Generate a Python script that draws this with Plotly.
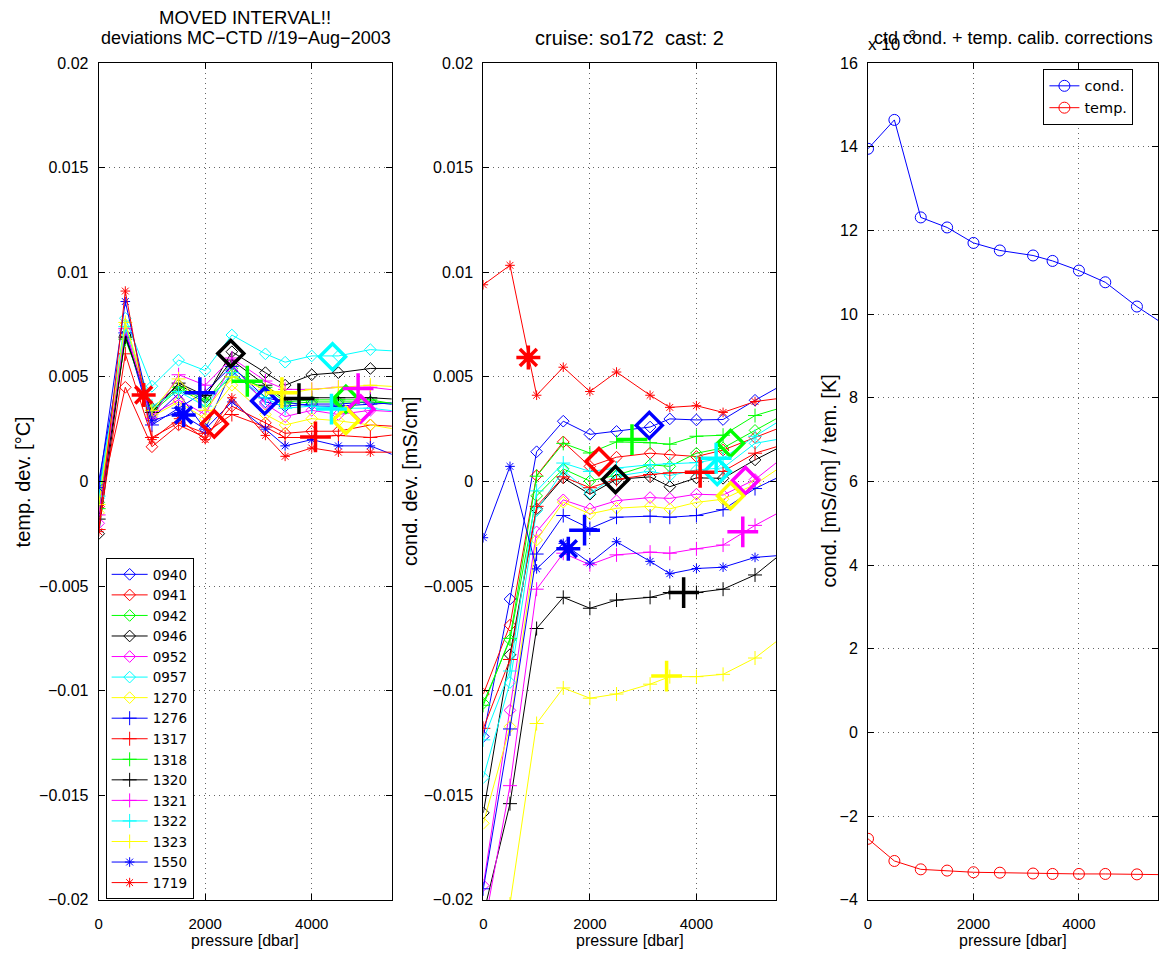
import numpy as np
import plotly.graph_objects as go

# ---------------- data ----------------
pressure = [0, 500, 1000, 1500, 2000, 2500, 3130, 3500, 4000, 4500, 5100, 5800]

sensors = ["0940", "0941", "0942", "0946", "0952", "0957", "1270", "1276",
           "1317", "1318", "1320", "1321", "1322", "1323", "1550", "1719"]

# temperature deviations MC-CTD (units of 1e-3 degC)
temp_0940 = [-0.5, 7.0, 3.0, 4.2, 2.5, 5.3, 3.8, 3.6, 3.7, 3.7, 3.8, 3.6]
temp_0941 = [-1.2, 4.5, 1.66, 2.7, 2.1, 3.6, 2.8, 2.3, 2.4, 2.4, 2.7, 2.6]
temp_0942 = [-1.0, 6.9, 3.3, 4.4, 3.8, 5.4, 4.3, 3.7, 3.8, 3.8, 3.8, 3.7]
temp_0946 = [-2.5, 7.0, 3.5, 4.6, 4.0, 6.2, 5.2, 4.6, 5.1, 5.2, 5.4, 5.4]
temp_0952 = [-2.0, 7.2, 3.2, 3.9, 3.2, 5.6, 3.7, 3.1, 3.4, 3.2, 3.4, 3.3]
temp_0957 = [-0.8, 7.8, 4.55, 5.8, 5.3, 7.0, 6.1, 5.7, 6.0, 6.0, 6.3, 6.2]
temp_1270 = [-1.5, 7.5, 3.1, 3.8, 3.0, 4.6, 3.2, 2.7, 3.0, 2.9, 2.7, 2.4]
temp_1276 = [0.0, 7.1, 2.7, 3.5, 4.3, 5.5, 4.0, 3.8, 3.6, 3.6, 3.7, 3.8]
temp_1317 = [-2.3, 6.1, 2.1, 2.8, 2.3, 3.2, 2.6, 2.1, 2.1, 2.2, 2.1, 2.3]
temp_1318 = [-1.3, 6.8, 3.4, 4.5, 3.9, 5.0, 4.5, 3.8, 3.9, 3.9, 3.9, 3.6]
temp_1320 = [-1.8, 6.9, 3.3, 4.7, 4.1, 5.8, 4.6, 3.9, 4.0, 4.0, 4.0, 3.9]
temp_1321 = [-1.6, 7.3, 3.0, 5.1, 4.6, 5.9, 4.8, 4.4, 4.4, 4.5, 4.5, 4.3]
temp_1322 = [-0.7, 7.4, 3.6, 4.3, 3.6, 5.2, 4.0, 3.5, 3.6, 3.5, 3.5, 3.3]
temp_1323 = [-1.1, 7.6, 3.4, 4.9, 3.4, 5.0, 4.4, 4.2, 4.4, 4.5, 4.6, 4.5]
temp_1550 = [-0.3, 8.6, 2.9, 3.3, 2.5, 3.8, 2.5, 1.7, 2.0, 1.7, 1.7, 1.0]
temp_1719 = [-2.4, 9.1, 2.0, 3.0, 2.0, 4.0, 2.2, 1.2, 1.6, 1.4, 1.4, 1.4]

# conductivity deviations MC-CTD (units of 1e-3 mS/cm)
cond_0940 = [-12.19, -5.62, 1.42, 2.88, 2.25, 2.39, 2.6, 2.99, 2.94, 2.96, 3.88, 4.88]
cond_0941 = [-10.16, -6.87, 0.28, 1.89, 0.72, 1.16, 1.35, 1.27, 1.19, 1.5, 2.1, 2.8]
cond_0942 = [-10.6, -7.57, -0.69, 0.6, 0.02, 0.3, 0.8, 0.72, 1.35, 1.6, 2.44, 3.42]
cond_0946 = [-15.84, -8.28, -1.31, 0.17, -0.61, 0.1, 0.22, -0.25, 0.17, 0.15, 1.03, 1.94]
cond_0952 = [-19.31, -10.94, -2.41, -0.88, -1.31, -0.92, -0.77, -0.81, -0.61, -0.65, 0.09, 1.5]
cond_0957 = [-14.15, -9.61, -1.39, 0.53, -0.55, 0.25, 0.5, 0.28, 0.55, 0.65, 1.82, 2.14]
cond_1270 = [-16.34, -11.72, -2.8, -0.99, -1.55, -1.28, -1.19, -1.31, -1.0, -0.85, -0.14, 1.07]
cond_1276 = [-19.47, -11.83, -3.47, -1.63, -2.25, -1.71, -1.66, -1.71, -1.63, -1.35, -0.34, 0.52]
cond_1317 = [-11.8, -8.51, -1.19, 0.22, -0.3, 0.1, 0.33, 0.41, 0.44, 0.48, 1.35, 1.89]
cond_1318 = [-10.7, -7.5, 0.25, 1.82, 1.36, 1.89, 1.85, 1.78, 2.16, 2.21, 3.15, 3.68]
cond_1320 = [-20.7, -15.4, -7.03, -5.54, -6.06, -5.67, -5.54, -5.31, -5.31, -5.15, -4.47, -3.03]
cond_1321 = [-21.5, -14.54, -5.15, -3.43, -3.98, -3.51, -3.38, -3.43, -3.22, -3.04, -2.1, -1.14]
cond_1322 = [-12.35, -9.06, -0.45, 0.88, 0.48, 0.64, 0.8, 0.85, 0.9, 1.11, 2.16, 3.28]
cond_1323 = [-27.0, -20.2, -11.57, -9.87, -10.36, -10.16, -9.69, -9.33, -9.33, -9.22, -8.44, -7.06]
cond_1550 = [-2.69, 0.72, -4.18, -2.96, -3.9, -2.88, -3.82, -4.41, -4.16, -4.1, -3.63, -3.49]
cond_1719 = [9.4, 10.33, 4.12, 5.46, 4.3, 5.23, 4.12, 3.54, 3.62, 3.3, 3.82, 4.05]

# "moved interval" points (one per sensor, same order as sensors)
moved_pressure = [3115, 2170, 4640, 2480, 4920, 4390, 4640, 1900,
                  4070, 2790, 3760, 4870, 4370, 3440, 1595, 845]
moved_temp = [3.85, 2.75, 3.93, 6.12, 3.46, 5.96, 2.91, 4.24,
              2.13, 4.79, 3.96, 4.44, 3.46, 4.24, 3.18, 4.13]
moved_cond = [2.68, 0.95, 1.82, 0.09, 0.05, 0.48, -0.69, -2.33,
              0.44, 2.0, -5.31, -2.41, 1.11, -9.3, -3.22, 5.92]

# calibration corrections (units of 1e-3)
calib_pressure = [0, 500, 1000, 1500, 2000, 2500, 3130, 3500, 4000, 4500, 5100, 5800]
cond_corr = [13.95, 14.64, 12.31, 12.07, 11.70, 11.52, 11.40, 11.27, 11.04, 10.76, 10.18, 9.6]
temp_corr = [-2.54, -3.07, -3.27, -3.30, -3.34, -3.35, -3.37, -3.38, -3.38, -3.38, -3.39, -3.40]

temp_series = [temp_0940, temp_0941, temp_0942, temp_0946, temp_0952, temp_0957, temp_1270, temp_1276,
               temp_1317, temp_1318, temp_1320, temp_1321, temp_1322, temp_1323, temp_1550, temp_1719]
cond_series = [cond_0940, cond_0941, cond_0942, cond_0946, cond_0952, cond_0957, cond_1270, cond_1276,
               cond_1317, cond_1318, cond_1320, cond_1321, cond_1322, cond_1323, cond_1550, cond_1719]

# ---------------- styles ----------------
cyc = ["#0000ff", "#ff0000", "#00ff00", "#000000", "#ff00ff", "#00ffff", "#ffff00"]
colors = [cyc[i % 7] for i in range(16)]
symbols = ["diamond-open"] * 7 + ["cross-thin-open"] * 7 + ["asterisk-open"] * 2
small_size = [9] * 7 + [10] * 7 + [8] * 2
big_size = [20] * 7 + [22] * 7 + [20] * 2

FONT = "Liberation Sans, Arial, Helvetica, sans-serif"
WIDE = "DejaVu Sans, Verdana, sans-serif"
fig = go.Figure()

for panel, series, moved, xa, ya in [
    (0, temp_series, moved_temp, "x", "y"),
    (1, cond_series, moved_cond, "x2", "y2"),
]:
    for i, name in enumerate(sensors):
        fig.add_trace(go.Scatter(
            x=pressure, y=np.array(series[i]) * 1e-3, mode="lines+markers",
            name=name, xaxis=xa, yaxis=ya, showlegend=(panel == 0),
            legend="legend",
            line=dict(color=colors[i], width=1),
            marker=dict(symbol=symbols[i], size=small_size[i], color=colors[i],
                        line=dict(color=colors[i], width=1)),
        ))
    for i, name in enumerate(sensors):
        fig.add_trace(go.Scatter(
            x=[moved_pressure[i]], y=[moved[i] * 1e-3], mode="markers",
            xaxis=xa, yaxis=ya, showlegend=False,
            marker=dict(symbol=symbols[i], size=big_size[i], color=colors[i],
                        line=dict(color=colors[i], width=3.5)),
        ))

fig.add_trace(go.Scatter(x=calib_pressure, y=cond_corr, mode="lines+markers", name="cond.",
                         xaxis="x3", yaxis="y3", legend="legend2",
                         line=dict(color="#0000ff", width=1),
                         marker=dict(symbol="circle-open", size=11, color="#0000ff",
                                     line=dict(color="#0000ff", width=1))))
fig.add_trace(go.Scatter(x=calib_pressure, y=temp_corr, mode="lines+markers", name="temp.",
                         xaxis="x3", yaxis="y3", legend="legend2",
                         line=dict(color="#ff0000", width=1),
                         marker=dict(symbol="circle-open", size=11, color="#ff0000",
                                     line=dict(color="#ff0000", width=1))))

W, H = 1164, 958
def px_x(p):
    return p / W
def px_y(p):
    return 1 - p / H

def axis_common():
    return dict(showline=True, linecolor="black", linewidth=1, mirror="ticks",
                ticks="inside", ticklen=6, tickcolor="black", tickwidth=1,
                showgrid=True, gridcolor="rgba(0,0,0,0.6)", griddash="1px,4px", gridwidth=1,
                zeroline=False, ticklabelstandoff=6,
                tickfont=dict(family=FONT, size=16, color="black"))

ydom = [px_y(908), px_y(56)]
xdoms = [[px_x(95), px_x(389)], [px_x(481), px_x(775)], [px_x(867), px_x(1158)]]

dev_ticks = [-0.02, -0.015, -0.01, -0.005, 0, 0.005, 0.01, 0.015, 0.02]
dev_text = ["\u22120.02", "\u22120.015", "\u22120.01", "\u22120.005", "0", "0.005", "0.01", "0.015", "0.02"]
cor_ticks = [-4, -2, 0, 2, 4, 6, 8, 10, 12, 14, 16]
cor_text = ["\u22124", "\u22122", "0", "2", "4", "6", "8", "10", "12", "14", "16"]

layout = dict(
    width=W, height=H, margin=dict(l=0, r=0, t=0, b=0),
    paper_bgcolor="white", plot_bgcolor="white",
    font=dict(family=FONT, size=16, color="black"),
    legend=dict(x=px_x(102), y=px_y(560), xanchor="left", yanchor="top",
                bordercolor="black", borderwidth=1, bgcolor="white", itemwidth=36,
                font=dict(family=WIDE, size=13.5, color="black"), tracegroupgap=0),
    legend2=dict(x=px_x(1043), y=px_y(62), xanchor="left", yanchor="top",
                 bordercolor="black", borderwidth=1, bgcolor="white",
                 font=dict(family=WIDE, size=14.5, color="black")),
)
for k in range(3):
    sx = "" if k == 0 else str(k + 1)
    xa = axis_common()
    xa.update(domain=xdoms[k], range=[0, 5500], tickvals=[0, 2000, 4000],
              anchor="y" + sx, ticklabelstandoff=10,
              tickfont=dict(family=FONT, size=15, color="black"))
    ya = axis_common()
    if k < 2:
        ya.update(range=[-0.02, 0.02], tickvals=dev_ticks, ticktext=dev_text)
    else:
        ya.update(range=[-4, 16], tickvals=cor_ticks, ticktext=cor_text)
    ya.update(domain=ydom, anchor="x" + sx)
    layout["xaxis" + sx] = xa
    layout["yaxis" + sx] = ya

fig.update_layout(**layout)

def ann(text, x, y, angle=0, size=16, xanchor="center"):
    fig.add_annotation(text=text, x=px_x(x), y=px_y(y), xref="paper", yref="paper",
                       showarrow=False, textangle=angle,
                       font=dict(family=FONT, size=size, color="black"),
                       xanchor=xanchor, yanchor="middle")

ann("MOVED INTERVAL!!", 242, 10, size=18.5)
ann("deviations MC\u2212CTD //19\u2212Aug\u22122003", 243, 31, size=18)
ann("cruise: so172&nbsp;&nbsp;cast: 2", 628, 31, size=20)
ann("ctd cond. + temp. calib. corrections", 1013, 31, size=18)
ann("x 10", 865, 37, size=17, xanchor="left")
ann("\u22123", 899, 27, size=12, xanchor="left")
for cx in (242, 628, 1012):
    ann("pressure [dbar]", cx, 949)
ann("temp. dev. [\u00b0C]", 20, 482, angle=-90, size=20)
ann("cond. dev. [mS/cm]", 408, 482, angle=-90, size=20)
ann("cond. [mS/cm] / tem. [K]", 828, 482, angle=-90, size=20)

fig.write_html("out.html")
